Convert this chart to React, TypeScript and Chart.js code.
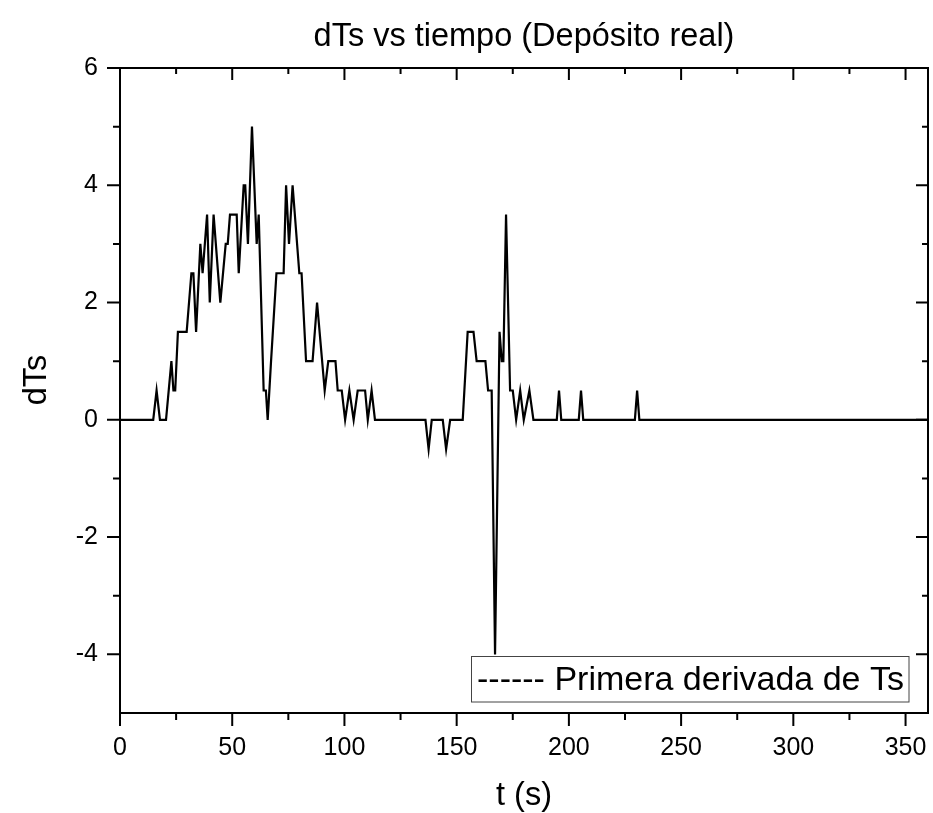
import React, { useEffect, useRef } from 'react';
import { Chart, registerables } from 'chart.js';

Chart.register(...registerables);

// ---- data ----
const times = [
  0, 14.8, 16.3, 17.8, 20.5, 22.9, 23.8, 24.6, 25.8, 29.7,
  31.8, 32.7, 33.9, 35.8, 36.8, 38.8, 40.0, 41.7, 44.7, 47.1,
  48.0, 49.0, 52.0, 52.9, 55.1, 55.8, 57.0, 58.8, 60.9, 61.8,
  64.0, 65.0, 65.8, 67.3, 69.7, 72.9, 74.0, 75.3, 76.9, 79.9,
  80.9, 82.9, 85.8, 87.8, 91.2, 92.8, 96.0, 97.0, 98.8, 100.3,
  102.2, 104.1, 105.9, 109.2, 110.4, 112.1, 113.6, 136.1, 137.5, 138.9,
  143.8, 145.3, 147.1, 152.7, 154.9, 157.5, 158.9, 162.8, 164.0, 165.6,
  167.1, 169.1, 170.1, 170.8, 172.0, 173.8, 175.0, 176.5, 178.3, 179.9,
  182.4, 184.2, 194.6, 195.6, 196.6, 204.4, 205.4, 206.4, 229.4, 230.4,
  231.4, 360,
];
const dTs = [
  0, 0, 0.5, 0, 0, 1.0, 0.5, 0.5, 1.5, 1.5,
  2.5, 2.5, 1.5, 3.0, 2.5, 3.5, 2.0, 3.5, 2.0, 3.0,
  3.0, 3.5, 3.5, 2.5, 4.0, 4.0, 3.0, 5.0, 3.0, 3.5,
  0.5, 0.5, 0, 1.0, 2.5, 2.5, 4.0, 3.0, 4.0, 2.5,
  2.5, 1.0, 1.0, 2.0, 0.5, 1.0, 1.0, 0.5, 0.5, 0,
  0.5, 0, 0.5, 0.5, 0, 0.5, 0, 0, -0.5, 0,
  0, -0.5, 0, 0, 1.5, 1.5, 1.0, 1.0, 0.5, 0.5,
  -4.0, 1.5, 1.0, 1.0, 3.5, 0.5, 0.5, 0, 0.5, 0,
  0.5, 0, 0, 0.5, 0, 0, 0.5, 0, 0, 0.5,
  0, 0,
];

const xMajorTicks = [0, 50, 100, 150, 200, 250, 300, 350];
const xMinorTicks = [25, 75, 125, 175, 225, 275, 325];
const yMajorTicks = [-4, -2, 0, 2, 4, 6];
const yMinorTicks = [-3, -1, 1, 3, 5];

const titleText = 'dTs vs tiempo (Depósito real)';
const xTitleText = 't (s)';
const yTitleText = 'dTs';
const legendText = '------ Primera derivada de Ts';

const FONT = '"Liberation Sans", Arial, Helvetica, sans-serif';

const decorPlugin = {
  id: 'decor',
  afterDraw(chart: any) {
    const { ctx, chartArea: a, scales } = chart;
    const x = scales.x;
    const y = scales.y;
    ctx.save();
    ctx.strokeStyle = '#000';
    ctx.lineWidth = 2;
    ctx.strokeRect(a.left, a.top, a.right - a.left, a.bottom - a.top);

    ctx.beginPath();
    xMajorTicks.forEach((v) => {
      const px = x.getPixelForValue(v);
      ctx.moveTo(px, a.bottom);
      ctx.lineTo(px, a.bottom + 13);
      ctx.moveTo(px, a.top);
      ctx.lineTo(px, a.top + 12);
    });
    xMinorTicks.forEach((v) => {
      const px = x.getPixelForValue(v);
      ctx.moveTo(px, a.bottom);
      ctx.lineTo(px, a.bottom + 7);
      ctx.moveTo(px, a.top);
      ctx.lineTo(px, a.top + 6);
    });
    yMajorTicks.forEach((v) => {
      const py = y.getPixelForValue(v);
      ctx.moveTo(a.left, py);
      ctx.lineTo(a.left - 13, py);
      ctx.moveTo(a.right, py);
      ctx.lineTo(a.right - 12, py);
    });
    yMinorTicks.forEach((v) => {
      const py = y.getPixelForValue(v);
      ctx.moveTo(a.left, py);
      ctx.lineTo(a.left - 7, py);
      ctx.moveTo(a.right, py);
      ctx.lineTo(a.right - 6, py);
    });
    ctx.stroke();

    // titles
    ctx.fillStyle = '#000';
    ctx.font = `32.5px ${FONT}`;
    ctx.textAlign = 'center';
    ctx.textBaseline = 'alphabetic';
    const cx = (a.left + a.right) / 2;
    ctx.fillText(titleText, cx, 46);
    ctx.fillText(xTitleText, cx, 805);
    ctx.save();
    ctx.translate(46, 380);
    ctx.rotate(-Math.PI / 2);
    ctx.fillText(yTitleText, 0, 0);
    ctx.restore();

    // legend
    ctx.fillStyle = '#fff';
    ctx.fillRect(472, 656, 437, 46);
    ctx.strokeStyle = '#444';
    ctx.lineWidth = 1;
    ctx.strokeRect(471.5, 656.5, 437.5, 45.5);
    ctx.fillStyle = '#000';
    ctx.textAlign = 'left';
    ctx.font = `34px ${FONT}`;
    ctx.fillText(legendText, 477, 690);
    ctx.restore();
  },
};

export default function App() {
  const ref = useRef<HTMLCanvasElement | null>(null);
  useEffect(() => {
    if (!ref.current) return;
    const chart = new Chart(ref.current, {
      type: 'line',
      data: {
        datasets: [
          {
            label: legendText,
            data: times.map((t, i) => ({ x: t, y: dTs[i] })),
            borderColor: '#000',
            borderWidth: 2.2,
            pointRadius: 0,
            tension: 0,
            fill: false,
          },
        ],
      },
      options: {
        animation: false,
        responsive: false,
        maintainAspectRatio: false,
        layout: { padding: { left: 0, top: 68, right: 5, bottom: 0 } },
        plugins: {
          legend: { display: false },
          title: { display: false },
          tooltip: { enabled: false },
        },
        scales: {
          x: {
            type: 'linear',
            min: 0,
            max: 360,
            afterBuildTicks: (s: any) => {
              s.ticks = xMajorTicks.map((v) => ({ value: v }));
            },
            afterFit: (s: any) => {
              s.height = 100;
              s.paddingLeft = 0;
              s.paddingRight = 0;
              s.paddingTop = 0;
              s.paddingBottom = 0;
            },
            grid: { display: false, drawTicks: false, tickLength: 0 },
            border: { display: false },
            ticks: {
              padding: 20,
              maxRotation: 0,
              autoSkip: false,
              color: '#000',
              font: { family: FONT, size: 25 },
              callback: (v: any) => String(v),
            },
          },
          y: {
            type: 'linear',
            min: -5,
            max: 6,
            afterBuildTicks: (s: any) => {
              s.ticks = yMajorTicks.map((v) => ({ value: v }));
            },
            afterFit: (s: any) => {
              s.width = 120;
              s.paddingLeft = 0;
              s.paddingRight = 0;
              s.paddingTop = 0;
              s.paddingBottom = 0;
            },
            grid: { display: false, drawTicks: false, tickLength: 0 },
            border: { display: false },
            ticks: {
              padding: 22,
              autoSkip: false,
              color: '#000',
              font: { family: FONT, size: 25 },
              callback: (v: any) => String(v),
            },
          },
        },
      },
      plugins: [decorPlugin],
    });
    return () => chart.destroy();
  }, []);
  return (
    <div style={{ position: 'absolute', left: 0, top: 0, width: 933, height: 813, background: '#fff' }}>
      <canvas ref={ref} width={933} height={813} style={{ width: 933, height: 813, display: 'block' }} />
    </div>
  );
}
